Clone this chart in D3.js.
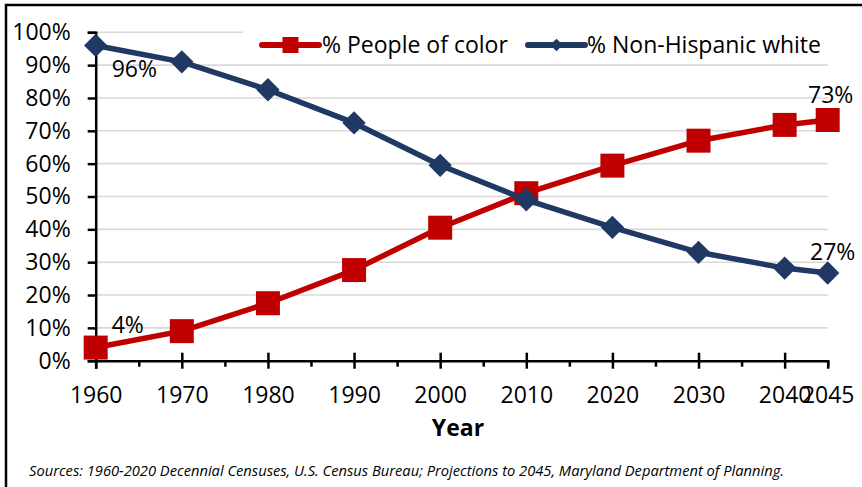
<!DOCTYPE html>
<html>
<head>
<meta charset="utf-8">
<script src="https://cdn.jsdelivr.net/npm/d3@7"></script>
<style>
    body { margin: 0; background: #fff; }
    svg text { font-family: "Open Sans", "Noto Sans", sans-serif; fill: #000; }
</style>
</head>
<body>
<script>
// Data
var years = [1960, 1970, 1980, 1990, 2000, 2010, 2020, 2030, 2040, 2045];
var peopleOfColor = [0.04, 0.09, 0.175, 0.276, 0.405, 0.51, 0.594, 0.67, 0.718, 0.733];
var nonHispanicWhite = [0.96, 0.91, 0.825, 0.724, 0.595, 0.49, 0.406, 0.33, 0.282, 0.267];
var yTicks = [0, 0.1, 0.2, 0.3, 0.4, 0.5, 0.6, 0.7, 0.8, 0.9, 1];
var minorYears = [1965, 1975, 1985, 1995, 2005, 2015, 2025, 2035];
var seriesNames = ["% People of color", "% Non-Hispanic white"];
var sourceNote = "Sources: 1960-2020 Decennial Censuses, U.S. Census Bureau; Projections to 2045, Maryland Department of Planning.";

var width = 862,
    height = 487;

var red = "#c00000",
    navy = "#1f3864";

var svg = d3.select("body").append("svg")
    .attr("width", width)
    .attr("height", height);

// frame around the chart (only top / left visible in the crop)
svg.append("rect")
    .attr("x", 6)
    .attr("y", 5)
    .attr("width", 920)
    .attr("height", 520)
    .attr("fill", "none")
    .attr("stroke", "#000")
    .attr("stroke-width", 2.5);

var x = d3.scaleLinear().domain([1960, 2045]).range([95.7, 827.7]);
var y = d3.scaleLinear().domain([0, 1]).range([360.7, 32.3]);

// gridlines
svg.append("g")
    .selectAll("line")
    .data(yTicks.slice(1))
    .enter().append("line")
    .attr("x1", x(1960))
    .attr("x2", x(2045))
    .attr("y1", function (d) { return y(d); })
    .attr("y2", function (d) { return y(d); })
    .attr("stroke", "#d9d9d9")
    .attr("stroke-width", 1.6);

// y axis
var yAxis = svg.append("g")
    .attr("transform", "translate(" + x(1960) + ",0)")
    .call(d3.axisLeft(y)
        .tickValues(yTicks)
        .tickFormat(d3.format(".0%"))
        .tickSize(8)
        .tickPadding(17));
yAxis.selectAll("text").style("font-size", "23px");

// x axis
var xAxis = svg.append("g")
    .attr("transform", "translate(0," + y(0) + ")")
    .call(d3.axisBottom(x)
        .tickValues(years)
        .tickFormat(d3.format("d"))
        .tickSize(8)
        .tickPadding(18));
xAxis.selectAll("text").style("font-size", "23px");
xAxis.selectAll(".tick line")
    .attr("y1", function (d) { return d === 2045 ? 0 : -8; })
    .attr("y2", function (d) { return d === 2045 ? 6 : 8; });

// minor ticks
svg.append("g")
    .attr("transform", "translate(0," + y(0) + ")")
    .call(d3.axisBottom(x).tickValues(minorYears).tickFormat("").tickSize(6))
    .select(".domain").remove();

[yAxis, xAxis].forEach(function (a) {
    a.select(".domain").attr("stroke-width", 2.5);
});
svg.selectAll(".tick line").attr("stroke-width", 2.5);

// axis title
svg.append("text")
    .attr("x", 458)
    .attr("y", 436)
    .attr("text-anchor", "middle")
    .style("font-size", "23px")
    .style("font-weight", "bold")
    .text("Year");

// lines
var line = d3.line()
    .x(function (d) { return x(d.year); })
    .y(function (d) { return y(d.v); });

function pairs(vals) {
    return years.map(function (yr, i) { return { year: yr, v: vals[i] }; });
}

var square = d3.symbol().type(d3.symbolSquare);

function drawSeries(vals, color, marker) {
    var g = svg.append("g");
    g.append("path")
        .datum(pairs(vals))
        .attr("d", line)
        .attr("fill", "none")
        .attr("stroke", color)
        .attr("stroke-width", 5.5)
        .attr("stroke-linejoin", "round");
    g.selectAll("path.marker")
        .data(pairs(vals))
        .enter().append("path")
        .attr("class", "marker")
        .attr("d", marker === "square" ? square.size(24 * 24)() : square.size(16.5 * 16.5)())
        .attr("transform", function (d) {
            return "translate(" + x(d.year) + "," + y(d.v) + ")" + (marker === "square" ? "" : " rotate(45)");
        })
        .attr("fill", color);
}

drawSeries(peopleOfColor, red, "square");
drawSeries(nonHispanicWhite, navy, "diamond");

// data labels
var fmt = d3.format(".0%");
var labels = [
    { year: 1960, v: nonHispanicWhite[0], dx: 16, dy: 32, anchor: "start" },
    { year: 1960, v: peopleOfColor[0], dx: 16, dy: -15, anchor: "start" },
    { year: 2045, v: peopleOfColor[9], dx: 3, dy: -17, anchor: "middle" },
    { year: 2045, v: nonHispanicWhite[9], dx: 5, dy: -13, anchor: "middle" }
];
svg.append("g")
    .selectAll("text")
    .data(labels)
    .enter().append("text")
    .attr("x", function (d) { return x(d.year) + d.dx; })
    .attr("y", function (d) { return y(d.v) + d.dy; })
    .attr("text-anchor", function (d) { return d.anchor; })
    .style("font-size", "23px")
    .text(function (d) { return fmt(d.v); });

// legend
var legend = svg.append("g");
legend.append("rect")
    .attr("x", 243)
    .attr("y", 22)
    .attr("width", 600)
    .attr("height", 38)
    .attr("fill", "#fff");

var legendItems = [
    { name: seriesNames[0], color: red, marker: "square", x1: 262, x2: 319, tx: 322 },
    { name: seriesNames[1], color: navy, marker: "diamond", x1: 528, x2: 585, tx: 587 }
];
var li = legend.selectAll("g.item")
    .data(legendItems)
    .enter().append("g")
    .attr("class", "item");
li.append("line")
    .attr("x1", function (d) { return d.x1; })
    .attr("x2", function (d) { return d.x2; })
    .attr("y1", 45)
    .attr("y2", 45)
    .attr("stroke", function (d) { return d.color; })
    .attr("stroke-width", 6)
    .attr("stroke-linecap", "round");
li.append("path")
    .attr("d", function (d) {
        return d.marker === "square" ? square.size(16 * 16)() : square.size(9 * 9)();
    })
    .attr("transform", function (d) {
        var cx = (d.x1 + d.x2) / 2;
        return "translate(" + cx + ",45)" + (d.marker === "square" ? "" : " rotate(45)");
    })
    .attr("fill", function (d) { return d.color; });
li.append("text")
    .attr("x", function (d) { return d.tx; })
    .attr("y", 45)
    .attr("dy", "0.35em")
    .style("font-size", "23px")
    .text(function (d) { return d.name; });

// source note
svg.append("text")
    .attr("x", 29)
    .attr("y", 476)
    .style("font-size", "14.7px")
    .style("font-style", "italic")
    .text(sourceNote);
</script>
</body>
</html>
